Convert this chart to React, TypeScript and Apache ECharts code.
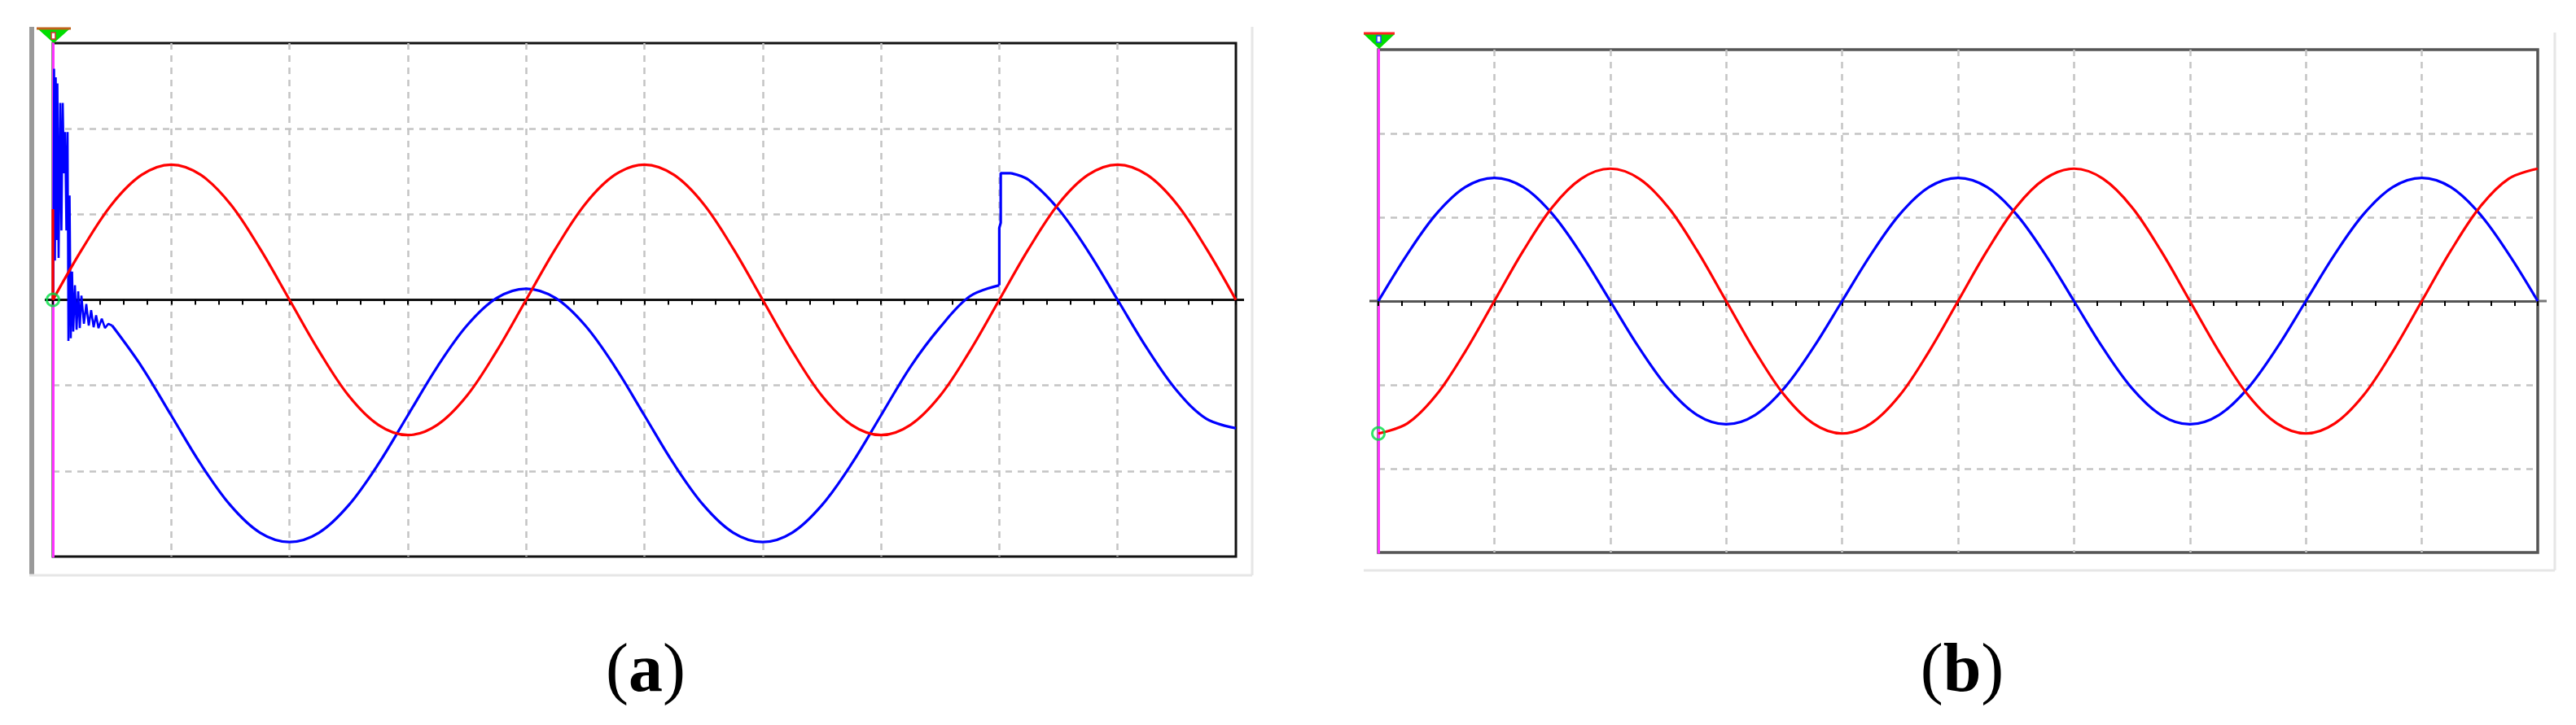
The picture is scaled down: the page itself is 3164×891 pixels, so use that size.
import React, { useEffect, useRef } from "react";
import * as echarts from "echarts";

// time axis in screen divisions (10 divisions across)
const T = [0, 0.25, 0.5, 0.75, 1, 1.25, 1.5, 1.75, 2, 2.25, 2.5, 2.75, 3, 3.25, 3.5, 3.75, 4, 4.25, 4.5, 4.75, 5, 5.25, 5.5, 5.75, 6, 6.25, 6.5, 6.75, 7, 7.25, 7.5, 7.75, 8, 8.25, 8.5, 8.75, 9, 9.25, 9.5, 9.75, 10];

// ---- panel (a) ----
const redA = [0, 0.6, 1.12, 1.46, 1.58, 1.46, 1.12, 0.6, 0, -0.6, -1.12, -1.46, -1.58, -1.46, -1.12, -0.6,
  0, 0.6, 1.12, 1.46, 1.58, 1.46, 1.12, 0.6, 0, -0.6, -1.12, -1.46, -1.58, -1.46, -1.12, -0.6,
  0, 0.6, 1.12, 1.46, 1.58, 1.46, 1.12, 0.6, 0];
const redAStartT = [0, 0];
const redAStartV = [1.06, 0];

const blueARingT = [0.003, 0.01, 0.017, 0.024, 0.031, 0.038, 0.048, 0.062, 0.072, 0.083, 0.093, 0.103, 0.114, 0.124, 0.131, 0.141, 0.151, 0.162, 0.172, 0.186, 0.2, 0.214, 0.227, 0.241, 0.262, 0.282, 0.303, 0.323, 0.344, 0.365, 0.385, 0.413, 0.44, 0.468, 0.5];
const blueARingV = [0, 2.7, 0.46, 2.6, 0.7, 2.53, 0.49, 2.3, 0.81, 2.3, 1.48, 1.96, 0.81, 1.96, -0.48, 1.22, -0.45, 0.33, -0.37, 0.17, -0.35, 0.1, -0.33, 0.05, -0.28, -0.05, -0.3, -0.12, -0.32, -0.18, -0.33, -0.22, -0.33, -0.28, -0.3];

const blueAMainT = [0.5, 0.75, 1, 1.25, 1.5, 1.75, 2, 2.25, 2.5, 2.75, 3, 3.25, 3.5, 3.75, 4, 4.25, 4.5, 4.75, 5, 5.25, 5.5, 5.75, 6, 6.25, 6.5, 6.75, 7, 7.25, 7.5, 7.75, 8];
const blueAMainV = [-0.3, -0.78, -1.35, -1.92, -2.4, -2.72, -2.83, -2.72, -2.4, -1.92, -1.35, -0.78, -0.3, 0.02, 0.13, 0.02, -0.3, -0.78, -1.35, -1.92, -2.4, -2.72, -2.83, -2.72, -2.4, -1.92, -1.35, -0.78, -0.32, 0.04, 0.17];

const blueAJumpT = [8, 8, 8.012, 8.012, 8.1];
const blueAJumpV = [0.17, 0.84, 0.9, 1.48, 1.48];

const blueAAfterT = [8.1, 8.25, 8.5, 8.75, 9, 9.25, 9.5, 9.75, 10];
const blueAAfterV = [1.48, 1.4, 1.06, 0.57, 0, -0.57, -1.06, -1.39, -1.5];

// ---- panel (b) ----
const redB = [-1.58, -1.46, -1.12, -0.6, 0, 0.6, 1.12, 1.46, 1.58, 1.46, 1.12, 0.6, 0, -0.6, -1.12, -1.46,
  -1.58, -1.46, -1.12, -0.6, 0, 0.6, 1.12, 1.46, 1.58, 1.46, 1.12, 0.6, 0, -0.6, -1.12, -1.46,
  -1.58, -1.46, -1.12, -0.6, 0, 0.6, 1.12, 1.46, 1.58];
const blueB = [0, 0.56, 1.04, 1.36, 1.47, 1.36, 1.04, 0.56, 0, -0.56, -1.04, -1.36, -1.47, -1.36, -1.04, -0.56,
  0, 0.56, 1.04, 1.36, 1.47, 1.36, 1.04, 0.56, 0, -0.56, -1.04, -1.36, -1.47, -1.36, -1.04, -0.56,
  0, 0.56, 1.04, 1.36, 1.47, 1.36, 1.04, 0.56, 0];

const cursorA = [[0, 0]];
const cursorB = [[0, -1.58]];
const panelLabels = ["a", "b"];

const zip = (t: number[], v: number[]) => t.map((x, i) => [x, v[i]]);

const RED = "#ff0000";
const BLUE = "#0000ff";

function makeX(gridIndex: number, lineColor: string) {
  return {
    type: "value",
    gridIndex,
    min: 0,
    max: 10,
    interval: 1,
    z: 1,
    axisLine: { show: true, onZero: true, lineStyle: { color: lineColor, width: 3 } },
    axisTick: { show: true, length: 6, lineStyle: { color: "#000", width: 2 } },
    minorTick: { show: true, splitNumber: 5, length: 6, lineStyle: { color: "#000", width: 2 } },
    axisLabel: { show: false },
    splitLine: {
      show: true,
      showMinLine: false,
      showMaxLine: false,
      lineStyle: { color: "#c4c4c4", type: [8, 7], width: 2.5 },
    },
  };
}

function makeY(gridIndex: number) {
  return {
    type: "value",
    gridIndex,
    min: -3,
    max: 3,
    interval: 1,
    z: 0,
    axisLine: { show: true, onZero: false, lineStyle: { color: "#ff33ff", width: 3 } },
    axisTick: { show: false },
    axisLabel: { show: false },
    splitLine: {
      show: true,
      showMinLine: false,
      showMaxLine: false,
      lineStyle: { color: "#c4c4c4", type: [8, 7], width: 2.5 },
    },
  };
}

function lineSeries(idx: number, data: number[][], color: string, smooth: number | boolean, width = 3.2) {
  return {
    type: "line",
    xAxisIndex: idx,
    yAxisIndex: idx,
    data,
    smooth,
    symbol: "none",
    z: 3,
    lineStyle: { color, width },
    itemStyle: { color },
  };
}

function cursorSeries(idx: number, data: number[][]) {
  return {
    type: "scatter",
    xAxisIndex: idx,
    yAxisIndex: idx,
    data,
    symbol: "circle",
    symbolSize: 15,
    z: 5,
    itemStyle: { color: "rgba(255,255,255,0)", borderColor: "#00dd44", borderWidth: 3 },
  };
}

const labelStyle = (ch: string, x: number, y: number) => ({
  type: "text",
  x,
  y,
  style: {
    text: `{n|(}{b|${ch}}{n|)}`,
    textAlign: "center",
    textVerticalAlign: "middle",
    align: "center",
    verticalAlign: "middle",
    rich: {
      n: { fontFamily: "Liberation Serif", fontSize: 84, fontWeight: "normal", fill: "#000" },
      b: { fontFamily: "Liberation Serif", fontSize: 84, fontWeight: "bold", fill: "#000" },
    },
  },
});

export default function App() {
  const ref = useRef<HTMLDivElement>(null);
  useEffect(() => {
    if (!ref.current) return;
    const chart = echarts.init(ref.current, null, { renderer: "svg" });
    const option = {
      animation: false,
      backgroundColor: "#fff",
      grid: [
        { left: 65, top: 53, width: 1453, height: 631, show: true, borderColor: "#111", borderWidth: 3, backgroundColor: "#fff" },
        { left: 1693, top: 61, width: 1424, height: 618, show: true, borderColor: "#555", borderWidth: 3.5, backgroundColor: "#fff" },
      ],
      xAxis: [makeX(0, "#111"), makeX(1, "#555")],
      yAxis: [makeY(0), makeY(1)],
      series: [
        lineSeries(0, zip(blueARingT, blueARingV), BLUE, false, 2.6),
        lineSeries(0, zip(blueAMainT, blueAMainV), BLUE, 0.35),
        lineSeries(0, zip(blueAJumpT, blueAJumpV), BLUE, false),
        lineSeries(0, zip(blueAAfterT, blueAAfterV), BLUE, 0.35),
        lineSeries(0, zip(redAStartT, redAStartV), RED, false),
        lineSeries(0, zip(T, redA), RED, 0.35),
        lineSeries(1, zip(T, blueB), BLUE, 0.35),
        lineSeries(1, zip(T, redB), RED, 0.35),
        cursorSeries(0, cursorA),
        cursorSeries(1, cursorB),
      ],
      graphic: [
        // panel (a) frame
        { type: "rect", shape: { x: 36, y: 33, width: 6, height: 675 }, style: { fill: "#999" }, z: 0 },
        { type: "line", shape: { x1: 36, y1: 707, x2: 1538, y2: 707 }, style: { stroke: "#e6e6e6", lineWidth: 3 } },
        { type: "line", shape: { x1: 1538, y1: 33, x2: 1538, y2: 707 }, style: { stroke: "#e6e6e6", lineWidth: 3 } },
        // panel (b) frame
        { type: "line", shape: { x1: 3138, y1: 40, x2: 3138, y2: 701 }, style: { stroke: "#e6e6e6", lineWidth: 3 } },
        { type: "line", shape: { x1: 1675, y1: 701, x2: 3138, y2: 701 }, style: { stroke: "#e6e6e6", lineWidth: 3 } },
        // zero-line extensions
        { type: "line", shape: { x1: 55, y1: 368.5, x2: 65, y2: 368.5 }, style: { stroke: "#111", lineWidth: 3 } },
        { type: "line", shape: { x1: 1518, y1: 368.5, x2: 1528, y2: 368.5 }, style: { stroke: "#111", lineWidth: 3 } },
        { type: "line", shape: { x1: 1682, y1: 370, x2: 1693, y2: 370 }, style: { stroke: "#555", lineWidth: 3 } },
        { type: "line", shape: { x1: 3117, y1: 370, x2: 3128, y2: 370 }, style: { stroke: "#777", lineWidth: 3 } },
        // trigger markers
        { type: "polygon", shape: { points: [[47, 36], [85, 36], [66, 53]] }, style: { fill: "#00dd00" }, z: 10 },
        { type: "line", shape: { x1: 45, y1: 35, x2: 87, y2: 35 }, style: { stroke: "#c0621a", lineWidth: 3 }, z: 10 },
        { type: "rect", shape: { x: 63, y: 40, width: 5, height: 8 }, style: { fill: "#fff", stroke: "#d03030", lineWidth: 1.5 }, z: 11 },
        { type: "polygon", shape: { points: [[1675, 42], [1713, 42], [1694, 60]] }, style: { fill: "#00dd00" }, z: 10 },
        { type: "line", shape: { x1: 1675, y1: 41, x2: 1713, y2: 41 }, style: { stroke: "#ff2020", lineWidth: 3 }, z: 10 },
        { type: "rect", shape: { x: 1691, y: 44, width: 5, height: 8 }, style: { fill: "#fff", stroke: "#2040ff", lineWidth: 1.5 }, z: 11 },
        // panel labels
        labelStyle(panelLabels[0], 793, 820),
        labelStyle(panelLabels[1], 2410, 820),
      ],
    };
    chart.setOption(option as any);
    return () => chart.dispose();
  }, []);
  return (
    <div
      ref={ref}
      style={{ position: "absolute", left: 0, top: 0, width: 3164, height: 891, background: "#fff" }}
    />
  );
}
